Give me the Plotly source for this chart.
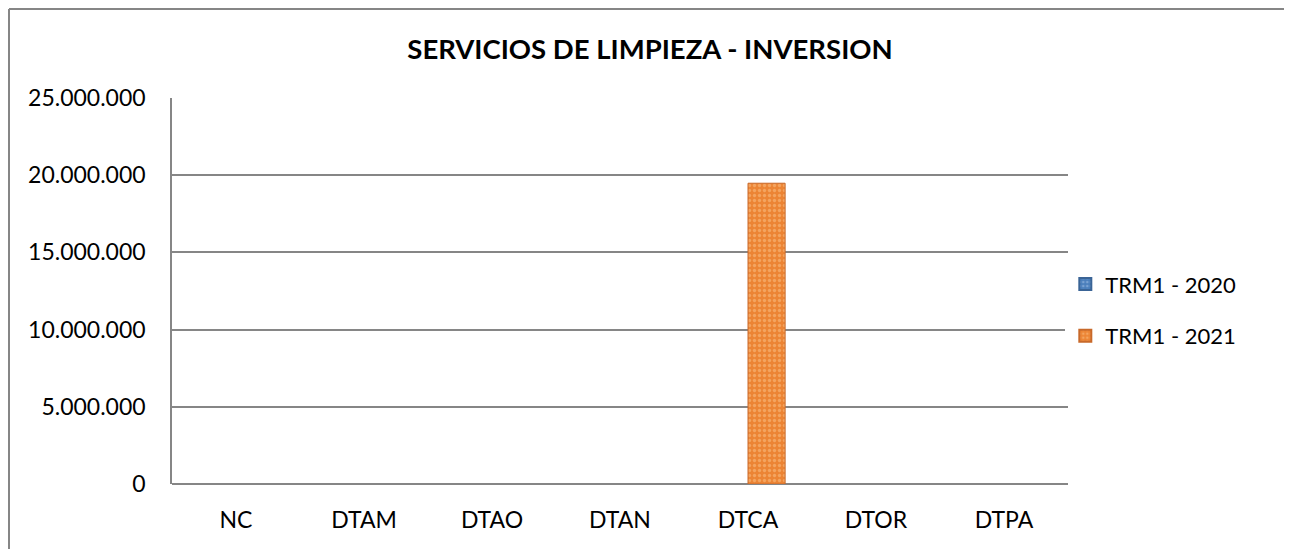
import plotly.graph_objects as go

# data
categorias = ["NC", "DTAM", "DTAO", "DTAN", "DTCA", "DTOR", "DTPA"]
trm1_2020 = [0, 0, 0, 0, 0, 0, 0]
trm1_2021 = [0, 0, 0, 0, 19480000, 0, 0]
y_ticks = [0, 5000000, 10000000, 15000000, 20000000, 25000000]

fuente = "Lato, 'Open Sans', sans-serif"


def bordes(vals):
    # no outline on empty bars (Excel draws nothing there)
    return [1 if v else 0 for v in vals]


fig = go.Figure()
fig.add_trace(go.Bar(
    x=categorias, y=trm1_2020, name="TRM1 - 2020", legendgroup="a",
    marker=dict(color="#4A7EBB", line=dict(color="#3A6496", width=bordes(trm1_2020)),
                pattern=dict(shape=".", fgcolor="#A9C6EA", size=5, solidity=0.35)),
))
fig.add_trace(go.Bar(
    x=categorias, y=trm1_2021, name="TRM1 - 2021", legendgroup="b",
    marker=dict(color="#EC8434", line=dict(color="#C8692A", width=bordes(trm1_2021)),
                pattern=dict(shape=".", fgcolor="#FBC48A", size=5, solidity=0.35)),
))

# the page body has an 8px margin, so the figure is a bit smaller
W, H = 1284, 541
L, R, T, B = 164, 224, 90, 65
pw, ph = W - L - R, H - T - B

# marco exterior (solo borde superior e izquierdo visibles)
x0 = (1 - L) / pw
x1 = (W - L) / pw
ytop = (H - B - 1) / ph
ybot = (H - B - H) / ph
fig.add_shape(type="line", xref="paper", yref="paper", x0=x0, x1=x1, y0=ytop, y1=ytop,
              line=dict(color="#868686", width=2))
fig.add_shape(type="line", xref="paper", yref="paper", x0=x0, x1=x0, y0=ytop, y1=ybot,
              line=dict(color="#868686", width=2))

fig.update_layout(
    width=W, height=H,
    margin=dict(l=L, r=R, t=T, b=B),
    paper_bgcolor="white", plot_bgcolor="white",
    font=dict(family=fuente, size=23, color="black"),
    separators=",.",
    title=dict(text="<b>SERVICIOS DE LIMPIEZA - INVERSION</b>", x=0.5, xanchor="center",
               y=1 - 41 / H, yanchor="middle", font=dict(size=27.5, family=fuente)),
    barmode="group", bargap=0.42, bargroupgap=0,
    legend=dict(x=0.997, y=0.45, xanchor="left", yanchor="middle",
                font=dict(size=22), tracegroupgap=20, itemsizing="constant"),
    xaxis=dict(showline=False, ticks="", ticklabelstandoff=20),
    yaxis=dict(range=[0, 25000000], tickvals=y_ticks, tickformat=",d",
               showgrid=True, gridcolor="#868686", gridwidth=1.5,
               showline=True, linecolor="#868686", linewidth=1.5,
               zeroline=True, zerolinecolor="#868686", zerolinewidth=1.5,
               ticks="", ticklabelstandoff=20),
)

fig.write_html("out.html")
